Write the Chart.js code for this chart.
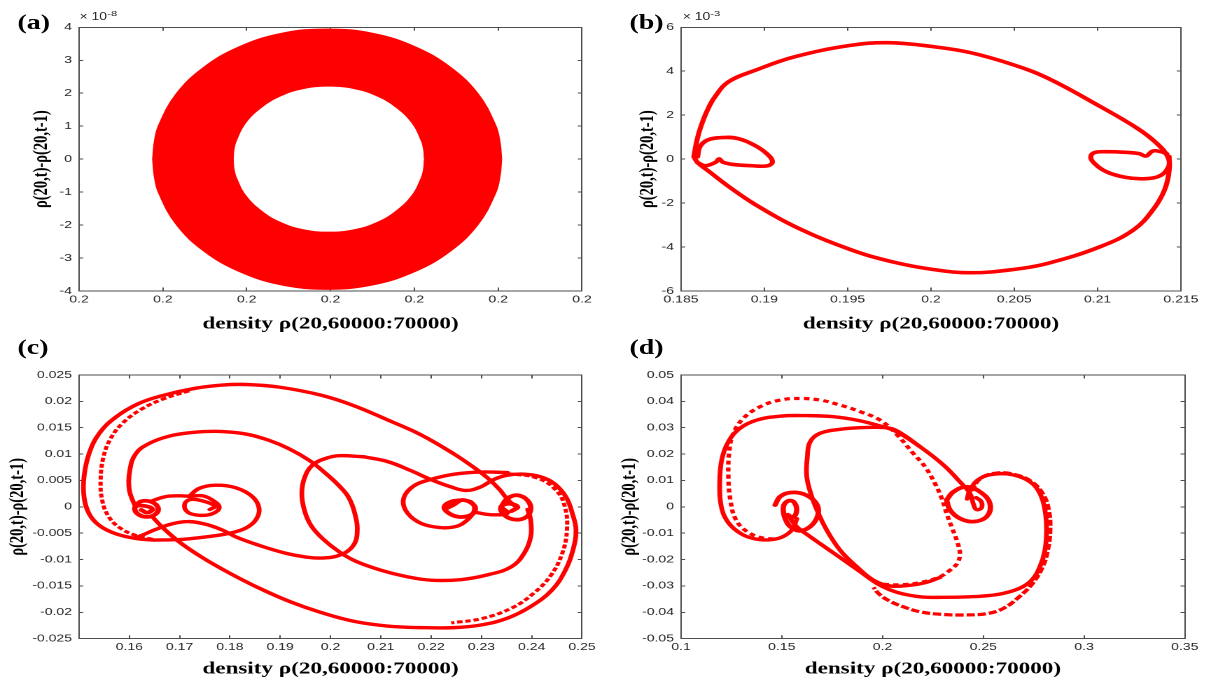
<!DOCTYPE html>
<html>
<head>
<meta charset="utf-8">
<script src="https://cdn.jsdelivr.net/npm/chart.js@4.4.1/dist/chart.umd.min.js"></script>
<style>
  html, body { margin: 0; padding: 0; background: #fff; }
  body { width: 1214px; height: 682px; overflow: hidden; position: relative; }
  /* the whole figure is laid out narrow and stretched sideways, like the exported plot */
  #figure { position: absolute; left: 0; top: 0; width: 867.14px; height: 682px; transform: scaleX(1.4); transform-origin: 0 0; }
  #figure canvas { position: absolute; }
  .tag { position: absolute; font: bold 20px 'Liberation Serif', 'Times New Roman', serif; line-height: 20px; color: #000; }
  .expo { position: absolute; font: 10px 'Liberation Sans', Arial, sans-serif; line-height: 10px; color: #262626; white-space: nowrap; }
  .expo span { font-size: 8px; position: relative; top: -4px; }
</style>
</head>
<body>
<div id="figure">
  <canvas id="panelA" width="432" height="340" style="left:0;top:0"></canvas>
  <canvas id="panelB" width="432" height="340" style="left:430px;top:0"></canvas>
  <canvas id="panelC" width="432" height="342" style="left:0;top:340px"></canvas>
  <canvas id="panelD" width="432" height="342" style="left:430px;top:340px"></canvas>
  <div class="tag" style="left:12.5px;top:11.8px">(a)</div>
  <div class="tag" style="left:449.6px;top:11.8px">(b)</div>
  <div class="tag" style="left:12.5px;top:337.3px">(c)</div>
  <div class="tag" style="left:449.6px;top:337.3px">(d)</div>
  <div class="expo" style="left:56.8px;top:12.4px">× 10<span>-8</span></div>
  <div class="expo" style="left:487.6px;top:12.4px">× 10<span>-3</span></div>
</div>
<script>
const RED = '#ff0000';
const AXIS = '#4d4d4d';
const X_TITLE = 'density ρ(20,60000:70000)';
const Y_TITLE = 'ρ(20,t)-ρ(20,t-1)';

// (a) ring, x = density - 0.2 and y both in units of 1e-8
const ringOuterTop = [[-4.24,0],[-4.20,0.52],[-4.10,1.02],[-3.68,1.98],[-3.02,2.79],[-2.16,3.42],[-1.16,3.82],[-0.08,3.95],[1.00,3.82],[2.00,3.42],[2.86,2.79],[3.52,1.98],[3.94,1.02],[4.04,0.52],[4.08,0]];
const ringOuterBottom = [[-4.24,0],[-4.20,-0.52],[-4.10,-1.02],[-3.68,-1.98],[-3.02,-2.79],[-2.16,-3.42],[-1.16,-3.82],[-0.08,-3.95],[1.00,-3.82],[2.00,-3.42],[2.86,-2.79],[3.52,-1.98],[3.94,-1.02],[4.04,-0.52],[4.08,0]];
const ringInnerTop = [[-2.31,0],[-2.29,0.29],[-2.23,0.57],[-2.01,1.10],[-1.64,1.56],[-1.18,1.91],[-0.63,2.13],[-0.04,2.20],[0.55,2.13],[1.10,1.91],[1.56,1.56],[1.93,1.10],[2.15,0.57],[2.21,0.29],[2.23,0]];
const ringInnerBottom = [[-2.31,0],[-2.29,-0.29],[-2.23,-0.57],[-2.01,-1.10],[-1.64,-1.56],[-1.18,-1.91],[-0.63,-2.13],[-0.04,-2.20],[0.55,-2.13],[1.10,-1.91],[1.56,-1.56],[1.93,-1.10],[2.15,-0.57],[2.21,-0.29],[2.23,0]];
const aXTicks = [-6, -4, -2, 0, 2, 4, 6];
const aXLabels = ['0.2', '0.2', '0.2', '0.2', '0.2', '0.2', '0.2'];
const aYTicks = [-4, -3, -2, -1, 0, 1, 2, 3, 4];
const aYLabels = ['-4', '-3', '-2', '-1', '0', '1', '2', '3', '4'];

// (b) y in units of 1e-3
const bOuterLoop = [[0.18577,0.11],[0.18596,0.87],[0.18619,1.48],[0.18659,2.24],[0.18705,2.85],[0.18787,3.53],[0.18951,4.06],[0.19184,4.66],[0.19511,5.17],[0.19744,5.30],[0.20013,5.12],[0.20235,4.85],[0.20496,4.29],[0.20702,3.68],[0.21017,2.39],[0.21239,1.40],[0.21355,0.72],[0.21421,0.11],[0.21430,-0.49],[0.21402,-1.40],[0.21332,-2.31],[0.21215,-3.22],[0.21017,-3.98],[0.20702,-4.74],[0.20496,-5.02],[0.20235,-5.17],[0.20013,-5.02],[0.19768,-4.67],[0.19511,-4.10],[0.19184,-3.07],[0.18951,-2.09],[0.18787,-1.25],[0.18670,-0.57],[0.18600,-0.16],[0.18577,0.11]];
const bLeftCurl = [[0.18600,0.11],[0.18614,0.57],[0.18659,0.87],[0.18741,0.98],[0.18834,0.95],[0.18939,0.64],[0.19016,0.24],[0.19049,-0.11],[0.19021,-0.30],[0.18927,-0.30],[0.18811,-0.24],[0.18752,-0.14],[0.18729,0.01],[0.18708,-0.14],[0.18647,-0.30],[0.18600,-0.16]];
const bRightCurl = [[0.21416,0.24],[0.21379,0.34],[0.21332,0.37],[0.21290,0.14],[0.21250,0.25],[0.21169,0.31],[0.21052,0.34],[0.20982,0.30],[0.20959,0.11],[0.20977,-0.16],[0.21052,-0.57],[0.21169,-0.83],[0.21286,-0.89],[0.21379,-0.74],[0.21426,-0.34],[0.21430,0.11]];
const bXTicks = [0.185, 0.19, 0.195, 0.2, 0.205, 0.21, 0.215];
const bXLabels = ['0.185', '0.19', '0.195', '0.2', '0.205', '0.21', '0.215'];
const bYTicks = [-6, -4, -2, 0, 2, 4, 6];
const bYLabels = ['-6', '-4', '-2', '0', '2', '4', '6'];

// (c)
const cOuterArc = [[0.2369,0.0000],[0.2352,0.0014],[0.2336,0.0033],[0.2312,0.0055],[0.2286,0.0074],[0.2246,0.0100],[0.2179,0.0137],[0.2113,0.0165],[0.2046,0.0192],[0.1980,0.0212],[0.1898,0.0227],[0.1832,0.0232],[0.1785,0.0231],[0.1732,0.0225],[0.1666,0.0211],[0.1619,0.0196],[0.1573,0.0170],[0.1540,0.0139],[0.1520,0.0101],[0.1510,0.0057],[0.1510,0.0019],[0.1520,-0.0013],[0.1540,-0.0035],[0.1573,-0.0051],[0.1613,-0.0060],[0.1650,-0.0063]];
const cInnerArc = [[0.1719,0.0220],[0.1666,0.0204],[0.1622,0.0184],[0.1586,0.0158],[0.1562,0.0128],[0.1548,0.0092],[0.1543,0.0050],[0.1546,0.0013],[0.1558,-0.0017],[0.1580,-0.0039],[0.1615,-0.0055],[0.1650,-0.0062]];
const cBottomLoop = [[0.1650,-0.0063],[0.1699,-0.0062],[0.1752,-0.0057],[0.1799,-0.0050],[0.1832,-0.0040],[0.1852,-0.0024],[0.1858,-0.0003],[0.1845,0.0019],[0.1812,0.0036],[0.1772,0.0041],[0.1739,0.0035],[0.1719,0.0020]];
const cLeftCurl = [[0.1719,0.0020],[0.1745,0.0021],[0.1765,0.0013],[0.1779,-0.0001],[0.1765,-0.0013],[0.1739,-0.0016],[0.1716,-0.0010],[0.1710,0.0005],[0.1722,0.0014],[0.1750,0.0010],[0.1770,0.0001],[0.1760,-0.0005]];
const cLeftEye = [[0.1612,0.0000],[0.1622,0.0010],[0.1642,0.0010],[0.1657,-0.0001],[0.1652,-0.0014],[0.1633,-0.0019],[0.1615,-0.0012],[0.1612,0.0000],[0.1628,0.0002],[0.1646,-0.0004],[0.1636,-0.0011],[0.1624,-0.0006]];
const cLeftLink = [[0.1642,0.0010],[0.1670,0.0019],[0.1700,0.0021],[0.1719,0.0020]];
const cMiddleArc = [[0.1612,0.0000],[0.1600,0.0032],[0.1601,0.0069],[0.1613,0.0101],[0.1639,0.0120],[0.1679,0.0134],[0.1726,0.0141],[0.1779,0.0143],[0.1832,0.0138],[0.1878,0.0126],[0.1918,0.0110],[0.1958,0.0088],[0.1991,0.0063],[0.2017,0.0040],[0.2036,0.0018],[0.2049,-0.0015],[0.2053,-0.0050],[0.2044,-0.0075],[0.2020,-0.0091],[0.1985,-0.0097],[0.1950,-0.0095],[0.1911,-0.0088],[0.1858,-0.0073],[0.1812,-0.0057],[0.1785,-0.0044],[0.1752,-0.0033],[0.1719,-0.0028],[0.1686,-0.0032],[0.1652,-0.0043],[0.1625,-0.0054],[0.1610,-0.0059]];
const cEllipse = [[0.2066,0.0095],[0.2017,0.0097],[0.1991,0.0092],[0.1964,0.0079],[0.1948,0.0054],[0.1943,0.0025],[0.1948,-0.0006],[0.1961,-0.0035],[0.1984,-0.0060],[0.2017,-0.0085],[0.2050,-0.0103],[0.2100,-0.0120],[0.2150,-0.0132],[0.2199,-0.0139],[0.2259,-0.0138],[0.2312,-0.0129],[0.2359,-0.0114],[0.2385,-0.0088],[0.2398,-0.0057],[0.2398,-0.0025],[0.2392,-0.0005]];
const cUpperRight = [[0.2066,0.0095],[0.2113,0.0086],[0.2159,0.0069],[0.2199,0.0052],[0.2239,0.0038],[0.2270,0.0031],[0.2299,0.0038],[0.2325,0.0052],[0.2352,0.0060],[0.2385,0.0062],[0.2418,0.0057],[0.2445,0.0044],[0.2468,0.0019],[0.2481,-0.0013],[0.2488,-0.0044],[0.2482,-0.0082],[0.2467,-0.0120],[0.2440,-0.0158],[0.2398,-0.0189],[0.2352,-0.0211],[0.2299,-0.0224],[0.2246,-0.0229],[0.2179,-0.0229],[0.2113,-0.0226],[0.2046,-0.0217],[0.1980,-0.0200],[0.1920,-0.0180],[0.1860,-0.0155],[0.1800,-0.0126],[0.1745,-0.0096],[0.1700,-0.0067],[0.1665,-0.0038],[0.1645,-0.0018]];
const cOuterRight = [[0.2352,0.0063],[0.2410,0.0055],[0.2448,0.0032],[0.2466,0.0000],[0.2470,-0.0045],[0.2460,-0.0090],[0.2438,-0.0130],[0.2405,-0.0163],[0.2360,-0.0192],[0.2300,-0.0212],[0.2240,-0.0220]];
const cRightLoop = [[0.2352,0.0065],[0.2299,0.0066],[0.2246,0.0062],[0.2199,0.0052],[0.2166,0.0040],[0.2146,0.0018],[0.2149,-0.0006],[0.2173,-0.0028],[0.2206,-0.0038],[0.2246,-0.0038],[0.2272,-0.0025],[0.2286,-0.0006],[0.2280,0.0009],[0.2262,0.0013]];
const cRightEye = [[0.2262,0.0013],[0.2240,0.0010],[0.2226,0.0000],[0.2235,-0.0012],[0.2255,-0.0019],[0.2278,-0.0016],[0.2288,-0.0005],[0.2282,0.0006],[0.2262,0.0013],[0.2245,0.0004],[0.2232,-0.0002]];
const cRightLink = [[0.2286,-0.0010],[0.2320,-0.0015],[0.2352,-0.0012],[0.2339,0.0000]];
const cRightCurl = [[0.2339,0.0000],[0.2352,0.0016],[0.2372,0.0022],[0.2392,0.0012],[0.2398,-0.0005],[0.2388,-0.0020],[0.2365,-0.0024],[0.2345,-0.0015],[0.2339,0.0000],[0.2355,0.0006],[0.2372,0.0000],[0.2360,-0.0008]];
const cXTicks = [0.15, 0.16, 0.17, 0.18, 0.19, 0.2, 0.21, 0.22, 0.23, 0.24, 0.25];
const cXLabels = ['', '0.16', '0.17', '0.18', '0.19', '0.2', '0.21', '0.22', '0.23', '0.24', '0.25'];
const cYTicks = [-0.025, -0.02, -0.015, -0.01, -0.005, 0, 0.005, 0.01, 0.015, 0.02, 0.025];
const cYLabels = ['-0.025', '-0.02', '-0.015', '-0.01', '-0.005', '0', '0.005', '0.01', '0.015', '0.02', '0.025'];

// (d)
const dLeftEye = [[0.1467,0.0007],[0.1492,0.0039],[0.1541,0.0054],[0.1607,0.0049],[0.1665,0.0020],[0.1682,-0.0018],[0.1657,-0.0063],[0.1600,-0.0090],[0.1550,-0.0080],[0.1517,-0.0045],[0.1508,0.0000],[0.1530,0.0022],[0.1558,0.0020],[0.1574,-0.0012],[0.1555,-0.0040],[0.1530,-0.0030]];
const dSolidArc = [[0.1575,-0.0045],[0.1550,-0.0088],[0.1500,-0.0115],[0.1440,-0.0125],[0.1370,-0.0122],[0.1300,-0.0103],[0.1235,-0.0060],[0.1200,0.0001],[0.1192,0.0089],[0.1202,0.0178],[0.1235,0.0247],[0.1293,0.0298],[0.1376,0.0329],[0.1492,0.0344],[0.1624,0.0346],[0.1756,0.0342],[0.1872,0.0329],[0.1988,0.0307],[0.2070,0.0285],[0.2186,0.0228],[0.2302,0.0159],[0.2384,0.0095],[0.2434,0.0051],[0.2450,0.0013],[0.2465,-0.0010],[0.2490,-0.0005],[0.2490,0.0020],[0.2465,0.0035]];
const dDottedArc = [[0.1460,-0.0122],[0.1390,-0.0115],[0.1320,-0.0090],[0.1270,-0.0045],[0.1245,0.0026],[0.1235,0.0114],[0.1240,0.0215],[0.1260,0.0279],[0.1310,0.0336],[0.1393,0.0380],[0.1492,0.0405],[0.1591,0.0411],[0.1690,0.0405],[0.1789,0.0386],[0.1889,0.0361],[0.1988,0.0329],[0.2070,0.0275],[0.2150,0.0205],[0.2211,0.0152],[0.2260,0.0089],[0.2294,0.0032],[0.2318,-0.0025],[0.2345,-0.0080],[0.2368,-0.0126],[0.2384,-0.0177],[0.2371,-0.0214],[0.2335,-0.0240],[0.2285,-0.0265],[0.2200,-0.0285],[0.2100,-0.0295],[0.2000,-0.0293],[0.1960,-0.0285]];
const dInnerOval = [[0.2186,0.0228],[0.2100,0.0275],[0.2037,0.0298],[0.1922,0.0301],[0.1789,0.0294],[0.1690,0.0279],[0.1641,0.0247],[0.1627,0.0190],[0.1624,0.0114],[0.1649,0.0039],[0.1682,-0.0025],[0.1723,-0.0088],[0.1789,-0.0164],[0.1872,-0.0227],[0.1955,-0.0278],[0.2037,-0.0300],[0.2130,-0.0298],[0.2210,-0.0288],[0.2285,-0.0268]];
const dLowerLoop = [[0.1530,-0.0030],[0.1574,-0.0075],[0.1641,-0.0113],[0.1723,-0.0157],[0.1806,-0.0201],[0.1889,-0.0246],[0.1971,-0.0290],[0.2037,-0.0315],[0.2100,-0.0330],[0.2200,-0.0342],[0.2300,-0.0343],[0.2434,-0.0341],[0.2520,-0.0337],[0.2600,-0.0328],[0.2680,-0.0309],[0.2740,-0.0278],[0.2781,-0.0227],[0.2806,-0.0164],[0.2814,-0.0088],[0.2806,-0.0012],[0.2781,0.0051],[0.2732,0.0095],[0.2649,0.0121],[0.2566,0.0125],[0.2484,0.0108],[0.2434,0.0064],[0.2420,0.0030]];
const dOuterRight = [[0.2440,0.0060],[0.2490,0.0110],[0.2566,0.0128],[0.2649,0.0124],[0.2735,0.0098],[0.2795,0.0050],[0.2825,-0.0012],[0.2832,-0.0088],[0.2820,-0.0164],[0.2795,-0.0227],[0.2745,-0.0290],[0.2680,-0.0340],[0.2600,-0.0385],[0.2517,-0.0405],[0.2400,-0.0410],[0.2300,-0.0408],[0.2186,-0.0398],[0.2100,-0.0378],[0.2037,-0.0358],[0.1985,-0.0332],[0.1955,-0.0305]];
const dRightEye = [[0.2318,0.0026],[0.2352,0.0057],[0.2417,0.0076],[0.2484,0.0057],[0.2533,0.0013],[0.2517,-0.0037],[0.2450,-0.0056],[0.2384,-0.0044],[0.2335,-0.0012],[0.2318,0.0026]];
const dXTicks = [0.1, 0.15, 0.2, 0.25, 0.3, 0.35];
const dXLabels = ['0.1', '0.15', '0.2', '0.25', '0.3', '0.35'];
const dYTicks = [-0.05, -0.04, -0.03, -0.02, -0.01, 0, 0.01, 0.02, 0.03, 0.04, 0.05];
const dYLabels = ['-0.05', '-0.04', '-0.03', '-0.02', '-0.01', '0', '0.01', '0.02', '0.03', '0.04', '0.05'];

const tickFont = { family: "'Liberation Sans', Arial, sans-serif", size: 10 };
const xTitleFont = { family: "'Liberation Serif', 'Times New Roman', serif", size: 16.5, weight: 'bold', lineHeight: 1.2 };
const yTitleFont = { family: "'Liberation Serif', 'Times New Roman', serif", size: 14.5, weight: 'bold', lineHeight: 1.2 };

const pts = arr => arr.map(([x, y]) => ({ x, y }));

function curve(arr, width, dash) {
  return {
    data: pts(arr), borderColor: RED, borderWidth: width, borderDash: dash || [],
    borderCapStyle: dash ? 'butt' : 'round', borderJoinStyle: 'round',
    tension: 0.4, fill: false, pointRadius: 0
  };
}

function band(arr, color, base) {
  return {
    data: pts(arr), borderColor: color === RED ? RED : 'transparent', backgroundColor: color,
    borderWidth: 1, tension: 0.4, fill: { value: base }, pointRadius: 0
  };
}

// frame side with ticks pointing into the plot
function frameAxis(position, min, max, values, size) {
  const horizontal = position === 'top' || position === 'bottom';
  return {
    type: 'linear', position, min, max,
    afterBuildTicks: s => { s.ticks = values.map(v => ({ value: v })); },
    afterFit: s => { if (horizontal) s.height = size; else s.width = size; },
    grid: { drawOnChartArea: false, drawTicks: true, tickLength: horizontal ? -3.5 : -3, tickColor: AXIS, tickWidth: 1 },
    border: { display: true, color: AXIS, width: 1 },
    ticks: { display: false }
  };
}

function drawPanel(id, p) {
  const x = frameAxis('bottom', p.xRange[0], p.xRange[1], p.xTicks, p.xAxisHeight);
  x.ticks = { display: true, autoSkip: false, maxRotation: 0, minRotation: 0, padding: 6, color: '#262626', font: tickFont, callback: (v, i) => p.xLabels[i] };
  x.title = { display: true, text: X_TITLE, color: '#000', font: xTitleFont, padding: 0 };
  const y = frameAxis('left', p.yRange[0], p.yRange[1], p.yTicks, 56.43);
  y.ticks = { display: true, autoSkip: false, padding: 8, color: '#262626', font: tickFont, callback: (v, i) => p.yLabels[i] };
  y.title = { display: true, text: Y_TITLE, color: '#000', font: yTitleFont, padding: { top: p.yTitleGap, bottom: 0 } };

  new Chart(document.getElementById(id), {
    type: 'line',
    data: { datasets: p.datasets },
    options: {
      responsive: false,
      animation: false,
      devicePixelRatio: 2,
      layout: { autoPadding: false, padding: p.padding },
      plugins: { legend: { display: false }, tooltip: { enabled: false } },
      scales: {
        x, y,
        xTop: frameAxis('top', p.xRange[0], p.xRange[1], p.xTicks, 0),
        yRight: frameAxis('right', p.yRange[0], p.yRange[1], p.yTicks, 0)
      }
    }
  });
}

Chart.defaults.font.family = "'Liberation Sans', Arial, sans-serif";

drawPanel('panelA', {
  xRange: [-6, 6], xTicks: aXTicks, xLabels: aXLabels,
  yRange: [-4, 4], yTicks: aYTicks, yLabels: aYLabels,
  padding: { left: 0, top: 27.3, right: 16.29, bottom: 5.8 }, xAxisHeight: 43.2, yTitleGap: 20.9,
  datasets: [
    band(ringInnerTop, '#ffffff', -0.03),
    band(ringInnerBottom, '#ffffff', 0.03),
    band(ringOuterTop, RED, -0.03),
    band(ringOuterBottom, RED, 0.03)
  ]
});

drawPanel('panelB', {
  xRange: [0.185, 0.215], xTicks: bXTicks, xLabels: bXLabels,
  yRange: [-6, 6], yTicks: bYTicks, yLabels: bYLabels,
  padding: { left: 0, top: 27.3, right: 14.86, bottom: 5.8 }, xAxisHeight: 43.2, yTitleGap: 24.2,
  datasets: [curve(bOuterLoop, 3.6), curve(bLeftCurl, 3.6), curve(bRightCurl, 3.6)]
});

const cw = 3.4;
drawPanel('panelC', {
  xRange: [0.15, 0.25], xTicks: cXTicks, xLabels: cXLabels,
  yRange: [-0.025, 0.025], yTicks: cYTicks, yLabels: cYLabels,
  padding: { left: 0, top: 35, right: 16.29, bottom: 2.8 }, xAxisHeight: 40.5, yTitleGap: 4.2,
  datasets: [
    curve(cOuterArc, cw), curve(cInnerArc, 3, [4, 2]), curve(cBottomLoop, cw),
    curve(cLeftCurl, cw), curve(cLeftEye, 3.8), curve(cLeftLink, cw),
    curve(cMiddleArc, cw), curve(cEllipse, cw), curve(cUpperRight, cw),
    curve(cOuterRight, 3, [4, 2]), curve(cRightLoop, cw), curve(cRightEye, 3.8),
    curve(cRightLink, cw), curve(cRightCurl, 3.8)
  ]
});

const dw = 3.4;
drawPanel('panelD', {
  xRange: [0.1, 0.35], xTicks: dXTicks, xLabels: dXLabels,
  yRange: [-0.05, 0.05], yTicks: dYTicks, yLabels: dYLabels,
  padding: { left: 0, top: 35, right: 14.86, bottom: 2.8 }, xAxisHeight: 40.5, yTitleGap: 10.9,
  datasets: [
    curve(dLeftEye, 3.8), curve(dSolidArc, dw), curve(dDottedArc, 3.2, [4, 3]),
    curve(dInnerOval, dw), curve(dLowerLoop, dw), curve(dOuterRight, 3.2, [6, 2]),
    curve(dRightEye, 3.8)
  ]
});
</script>
</body>
</html>
